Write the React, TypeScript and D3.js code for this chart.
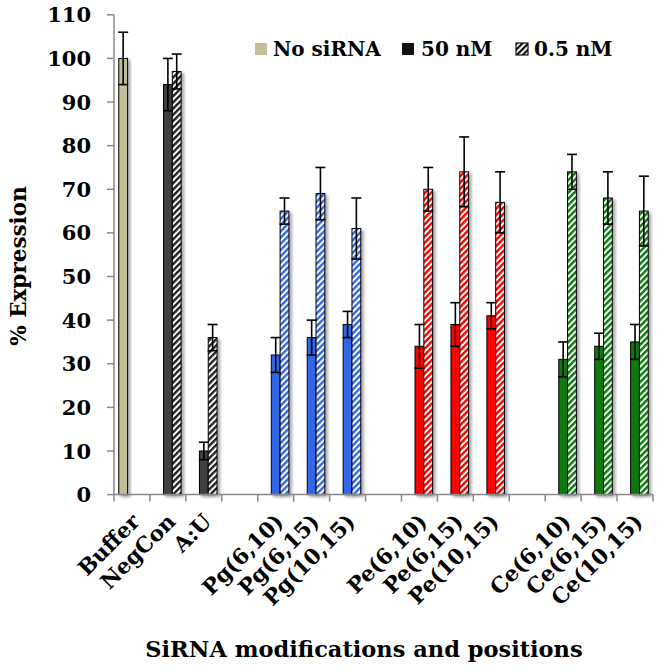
import React from "react";
import * as d3 from "d3";

const categories = ["Buffer", "NegCon", "A:U", "", "Pg(6,10)", "Pg(6,15)", "Pg(10,15)", "", "Pe(6,10)", "Pe(6,15)", "Pe(10,15)", "", "Ce(6,10)", "Ce(6,15)", "Ce(10,15)"];
const categoryGroup = [0, 0, 0, -1, 1, 1, 1, -1, 2, 2, 2, -1, 3, 3, 3];
const groupColors = ["#404040", "#3366E8", "#FF0000", "#0A7A0A"];
const noSiRNAColor = "#C4BD97";

const noSiRNA: (number | null)[] = [100, null, null, null, null, null, null, null, null, null, null, null, null, null, null];
const noSiRNAErr: (number | null)[] = [6, null, null, null, null, null, null, null, null, null, null, null, null, null, null];
const nM50: (number | null)[] = [null, 94, 10, null, 32, 36, 39, null, 34, 39, 41, null, 31, 34, 35];
const nM50Err: (number | null)[] = [null, 6, 2, null, 4, 4, 3, null, 5, 5, 3, null, 4, 3, 4];
const nM05: (number | null)[] = [null, 97, 36, null, 65, 69, 61, null, 70, 74, 67, null, 74, 68, 65];
const nM05Err: (number | null)[] = [null, 4, 3, null, 3, 6, 7, null, 5, 8, 7, null, 4, 6, 8];

const yTicks = [0, 10, 20, 30, 40, 50, 60, 70, 80, 90, 100, 110];
const legendLabels = ["No siRNA", "50 nM", "0.5 nM"];

const FONT = "'DejaVu Serif', serif";

export default function App() {
  const W = 663, H = 670;
  const x = d3.scaleBand<number>().domain(d3.range(categories.length)).range([114, 653]).padding(0);
  const y = d3.scaleLinear().domain([0, 110]).range([494.6, 14.8]);
  const bw = 8.8;
  const axisColor = "#888888";

  type Bar = { i: number; s: number; v: number; e: number; fill: string };
  const bars: Bar[] = [];
  categories.forEach((_, i) => {
    const g = categoryGroup[i];
    if (noSiRNA[i] != null) bars.push({ i, s: 0, v: noSiRNA[i] as number, e: noSiRNAErr[i] as number, fill: noSiRNAColor });
    if (nM50[i] != null) bars.push({ i, s: 1, v: nM50[i] as number, e: nM50Err[i] as number, fill: groupColors[g] });
    if (nM05[i] != null) bars.push({ i, s: 2, v: nM05[i] as number, e: nM05Err[i] as number, fill: `url(#hatch-${g})` });
  });
  const cx = (i: number) => (x(i) as number) + x.bandwidth() / 2;
  const barLeft = (b: Bar) => cx(b.i) + (b.s - 1) * bw - bw / 2;

  return (
    <svg width={W} height={H} style={{ position: "absolute", left: 0, top: 0, background: "#fff" }} fontFamily={FONT} fontWeight="bold">
      <defs>
        {groupColors.map((c, g) => (
          <pattern key={g} id={`hatch-${g}`} patternUnits="userSpaceOnUse" width={4.4} height={4.4} patternTransform="rotate(45)">
            <rect width={4.4} height={4.4} fill="#fff" />
            <rect width={2.4} height={4.4} fill={g === 0 ? "#222" : c} />
          </pattern>
        ))}
        <pattern id="hatch-legend" patternUnits="userSpaceOnUse" width={4.2} height={4.2} patternTransform="rotate(45)">
          <rect width={4.2} height={4.2} fill="#fff" />
          <rect width={2.2} height={4.2} fill="#111" />
        </pattern>
        <filter id="shadow" x="-50%" y="-10%" width="200%" height="120%">
          <feDropShadow dx={2.5} dy={2} stdDeviation={1.6} floodColor="#000" floodOpacity={0.35} />
        </filter>
      </defs>

      {/* bars */}
      {bars.map((b, k) => (
        <rect key={k} x={barLeft(b)} y={y(b.v)} width={bw} height={y(0) - y(b.v)} fill={b.fill} stroke="#000" strokeWidth={1} filter="url(#shadow)" />
      ))}

      {/* error bars */}
      {bars.map((b, k) => {
        const c = barLeft(b) + bw / 2;
        return (
          <g key={`e${k}`} stroke="#000" strokeWidth={1.6}>
            <line x1={c} x2={c} y1={y(b.v - b.e)} y2={y(b.v + b.e)} />
            <line x1={c - 5} x2={c + 5} y1={y(b.v + b.e)} y2={y(b.v + b.e)} />
            <line x1={c - 5} x2={c + 5} y1={y(b.v - b.e)} y2={y(b.v - b.e)} />
          </g>
        );
      })}

      {/* y axis */}
      <line x1={114} x2={114} y1={y(110)} y2={y(0)} stroke={axisColor} strokeWidth={1.5} />
      {yTicks.map((t) => (
        <g key={t}>
          <line x1={107} x2={114} y1={y(t)} y2={y(t)} stroke={axisColor} strokeWidth={1.5} />
          <text x={91} y={y(t)} dy="0.36em" textAnchor="end" fontSize={21}>{t}</text>
        </g>
      ))}

      {/* x axis */}
      <line x1={114} x2={653} y1={y(0)} y2={y(0)} stroke={axisColor} strokeWidth={1.5} />
      {d3.range(categories.length + 1).map((i) => {
        const xx = i < categories.length ? (x(i) as number) : 653;
        return <line key={i} x1={xx} x2={xx} y1={y(0)} y2={y(0) + 7} stroke={axisColor} strokeWidth={1.5} />;
      })}
      {categories.map((c, i) =>
        c ? (
          <text key={i} transform={`translate(${cx(i) + 9},${523}) rotate(-45)`} textAnchor="end" fontSize={21.5}>{c}</text>
        ) : null
      )}

      {/* axis titles */}
      <text transform={`translate(26,266) rotate(-90)`} textAnchor="middle" fontSize={21.5}>% Expression</text>
      <text x={364} y={657} textAnchor="middle" fontSize={22.5}>SiRNA modifications and positions</text>

      {/* legend */}
      <g fontSize={20}>
        <rect x={255} y={43} width={12} height={12} fill={noSiRNAColor} />
        <text x={273} y={56}>{legendLabels[0]}</text>
        <rect x={402} y={43} width={12} height={12} fill="#111" />
        <text x={421} y={56}>{legendLabels[1]}</text>
        <rect x={516} y={43} width={12} height={12} fill="url(#hatch-legend)" stroke="#111" strokeWidth={1.2} />
        <text x={534} y={56}>{legendLabels[2]}</text>
      </g>
    </svg>
  );
}
